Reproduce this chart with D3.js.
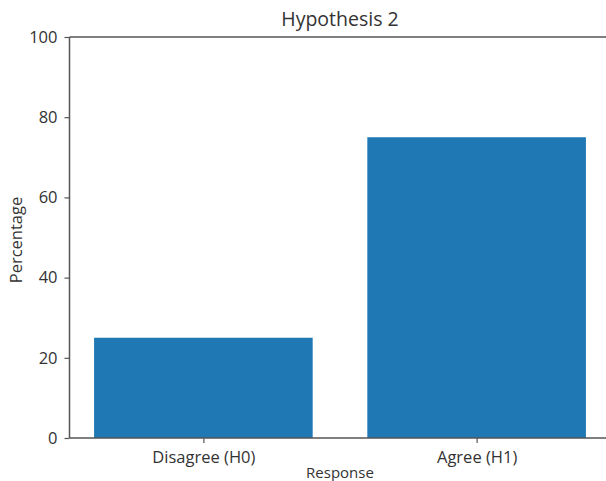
<!DOCTYPE html>
<html><head><meta charset="utf-8">
<script src="https://cdn.jsdelivr.net/npm/d3@7"></script>
<style>body{margin:0;background:#fff;overflow:hidden}svg{display:block}text{font-family:"Open Sans","Noto Sans",sans-serif;fill:#333}</style>
</head><body>
<script>
const categories = ["Disagree (H0)", "Agree (H1)"];
const values = [25, 75];
const yTicks = [0, 20, 40, 60, 80, 100];
const title = "Hypothesis 2";
const xLabel = "Response";
const yLabel = "Percentage";

(function () {
const W = 606, H = 481;
const mLeft = 69.5, mTop = 37, mBottom = 438, mRight = 610.5;
const fs = 16.5;
const svg = d3.select("body").append("svg").attr("width", W).attr("height", H);

const x = d3.scaleLinear().domain([-0.49, 1.49]).range([mLeft, mRight]);
const y = d3.scaleLinear().domain([0, 100]).range([mBottom, mTop]);
const bw = 0.8;

svg.selectAll("rect.bar").data(values).join("rect")
  .attr("class", "bar")
  .attr("x", (d, i) => x(i - bw / 2))
  .attr("width", (d, i) => x(i + bw / 2) - x(i - bw / 2))
  .attr("y", d => y(d))
  .attr("height", d => y(0) - y(d))
  .attr("fill", "#1f77b4");

const stroke = "#555";
svg.append("line").attr("x1", mLeft).attr("x2", mRight).attr("y1", mTop).attr("y2", mTop).attr("stroke", stroke).attr("stroke-width", 1.5);
svg.append("line").attr("x1", mLeft).attr("x2", mRight).attr("y1", mBottom).attr("y2", mBottom).attr("stroke", stroke).attr("stroke-width", 1.5);
svg.append("line").attr("x1", mLeft).attr("x2", mLeft).attr("y1", mTop).attr("y2", mBottom).attr("stroke", stroke).attr("stroke-width", 1.5);

const yAxis = d3.axisLeft(y).tickValues(yTicks).tickSize(5).tickPadding(7).tickFormat(d3.format("d"));
const gy = svg.append("g").attr("transform", `translate(${mLeft},0)`).call(yAxis);
gy.select(".domain").remove();
gy.selectAll(".tick line").attr("stroke", stroke).attr("stroke-width", 1.2);
gy.selectAll(".tick text").attr("font-size", fs).style("fill", "#333");

const xAxis = d3.axisBottom(x).tickValues([0, 1]).tickSize(5).tickPadding(8).tickFormat(i => categories[i]);
const gx = svg.append("g").attr("transform", `translate(0,${mBottom})`).call(xAxis);
gx.select(".domain").remove();
gx.selectAll(".tick line").attr("stroke", stroke).attr("stroke-width", 1.2);
gx.selectAll(".tick text").attr("font-size", fs).style("fill", "#333");

svg.append("text").attr("x", 340).attr("y", 26).attr("text-anchor", "middle").attr("font-size", 19.5).text(title);
svg.append("text").attr("x", 340).attr("y", 478).attr("text-anchor", "middle").attr("font-size", 15).text(xLabel);
svg.append("text").attr("transform", "translate(22,240) rotate(-90)").attr("text-anchor", "middle").attr("font-size", fs).text(yLabel);
})();
</script>
</body></html>
